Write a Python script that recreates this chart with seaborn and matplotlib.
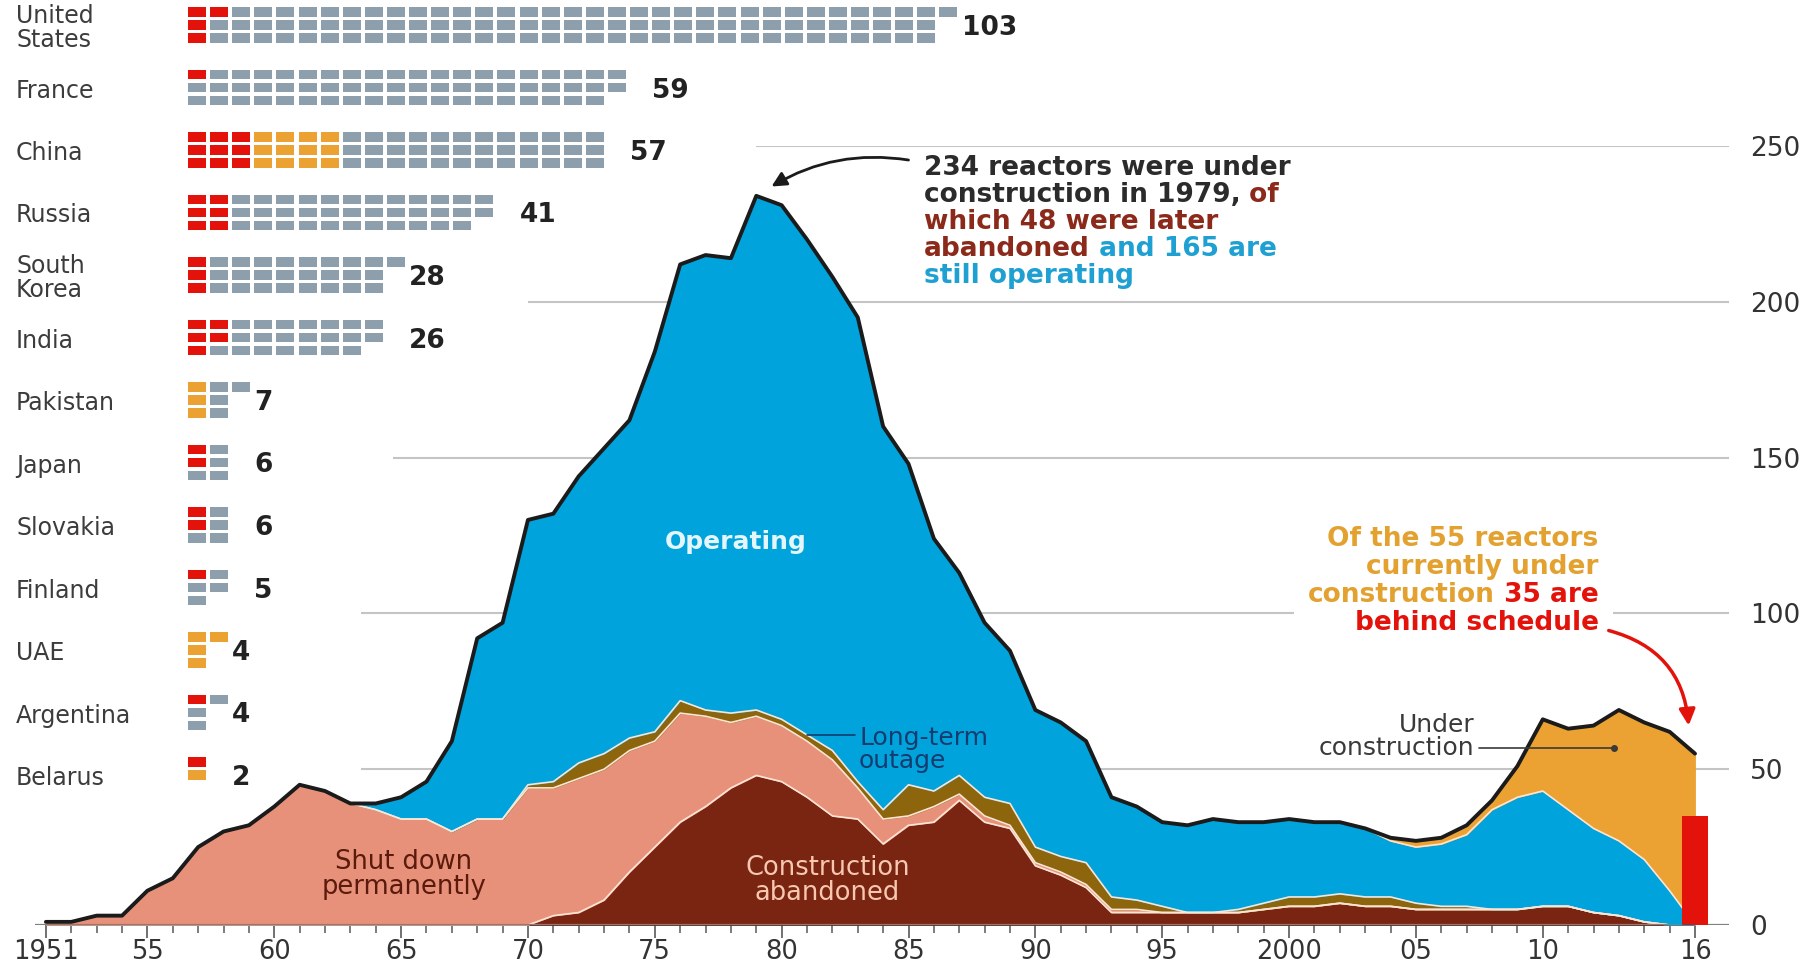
import matplotlib.pyplot as plt
from matplotlib.patches import Rectangle
from matplotlib.transforms import Bbox
import numpy as np
import pandas as pd
import seaborn as sns

# Reactors under construction in each year, split by what became of them
years = list(range(1951, 2017))

abandoned = [0, 0, 0, 0, 0, 0, 0, 0, 0, 0,
             0, 0, 0, 0, 0, 0, 0, 0, 0, 0,
             3, 4, 8, 17, 25, 33, 38, 44, 48, 46,
             41, 35, 34, 26, 32, 33, 40, 33, 31, 19,
             16, 12, 4, 4, 4, 4, 4, 4, 5, 6,
             6, 7, 6, 6, 5, 5, 5, 5, 5, 6,
             6, 4, 3, 1, 0, 0]
shut_down = [1, 1, 3, 3, 11, 15, 25, 30, 32, 38,
             45, 43, 39, 37, 34, 34, 30, 34, 34, 44,
             41, 43, 42, 39, 34, 35, 29, 21, 19, 18,
             18, 18, 10, 8, 3, 5, 2, 2, 1, 1,
             1, 1, 1, 1, 0, 0, 0, 0, 0, 0,
             0, 0, 0, 0, 0, 0, 0, 0, 0, 0,
             0, 0, 0, 0, 0, 0]
outage = [0, 0, 0, 0, 0, 0, 0, 0, 0, 0,
          0, 0, 0, 0, 0, 0, 0, 0, 0, 1,
          2, 5, 5, 4, 3, 4, 2, 3, 2, 2,
          2, 3, 2, 3, 10, 5, 6, 6, 7, 5,
          5, 7, 4, 3, 2, 0, 0, 1, 2, 3,
          3, 3, 3, 3, 2, 1, 1, 0, 0, 0,
          0, 0, 0, 0, 0, 0]
operating = [0, 0, 0, 0, 0, 0, 0, 0, 0, 0,
             0, 0, 0, 2, 7, 12, 29, 58, 63, 85,
             86, 92, 98, 102, 122, 140, 146, 146, 165, 165,
             159, 152, 149, 123, 103, 81, 65, 56, 49, 44,
             43, 39, 32, 30, 27, 28, 30, 28, 26, 25,
             24, 23, 22, 18, 18, 20, 23, 32, 36, 37,
             31, 27, 24, 20, 11, 0]
under_construction = [0, 0, 0, 0, 0, 0, 0, 0, 0, 0,
                      0, 0, 0, 0, 0, 0, 0, 0, 0, 0,
                      0, 0, 0, 0, 0, 0, 0, 0, 0, 0,
                      0, 0, 0, 0, 0, 0, 0, 0, 0, 0,
                      0, 0, 0, 0, 0, 0, 0, 0, 0, 0,
                      0, 0, 0, 1, 2, 2, 3, 3, 10, 23,
                      26, 33, 42, 44, 51, 55]
behind_schedule_2016 = 35

tick_years = [1951, 1955, 1960, 1965, 1970, 1975, 1980, 1985, 1990, 1995, 2000, 2005, 2010, 2016]
tick_labels = ['1951', '55', '60', '65', '70', '75', '80', '85', '90', '95', '2000', '05', '10', '16']
grid_vals = [50, 100, 150, 200, 250]
grid_starts = [1963.4, 1963.4, 1964.7, 1970.0, 1979.0]

# Reactors by country: behind schedule / under construction on time / operating
countries = ['United\nStates', 'France', 'China', 'Russia', 'South\nKorea', 'India', 'Pakistan',
             'Japan', 'Slovakia', 'Finland', 'UAE', 'Argentina', 'Belarus']
c_behind = [4, 1, 9, 6, 3, 5, 0, 2, 2, 1, 0, 1, 1]
c_building = [0, 0, 12, 0, 0, 0, 3, 0, 0, 0, 4, 0, 1]
c_operating = [99, 58, 36, 35, 25, 21, 4, 4, 4, 4, 0, 3, 0]

RED = '#e3120b'
ORANGE = '#eba232'
GREY = '#8d9eac'
DARK = '#2b2b2b'
BROWN_TXT = '#8b2a1a'
BLUE_TXT = '#1ea0d2'
ORANGE_TXT = '#e3a130'


def colour_line(ax, x, y, parts, ha='left', **kw):
    # one line of text made of differently coloured pieces
    texts = []
    if ha == 'left':
        t = ax.text(x, y, parts[0][0], color=parts[0][1], ha='left', va='center', **kw)
        texts.append(t)
        for s, c in parts[1:]:
            t = ax.annotate(s, xy=(1, 0.5), xycoords=t, ha='left', va='center', color=c, **kw)
            texts.append(t)
    else:
        parts = parts[::-1]
        t = ax.text(x, y, parts[0][0], color=parts[0][1], ha='right', va='center', **kw)
        texts.append(t)
        for s, c in parts[1:]:
            t = ax.annotate(s, xy=(0, 0.5), xycoords=t, ha='right', va='center', color=c, **kw)
            texts.append(t)
    return texts


def main():
    sns.set_theme(style='white')
    plt.rcParams['font.family'] = ['DejaVu Sans']

    fig = plt.figure(figsize=(18.19, 9.64), dpi=100)
    fig.patch.set_facecolor('white')
    ax = fig.add_axes([35 / 1819, 39 / 964, (1729 - 35) / 1819, (925 - 146) / 964])
    ax.set_xlim(1950.57, 2017.34)
    ax.set_ylim(0, 250)

    layers = pd.DataFrame({'abandoned': abandoned, 'shut': shut_down, 'outage': outage,
                           'operating': operating, 'building': under_construction}, index=years)
    colours = ['#7a2512', '#e8917a', '#8c650c', '#00a3dc', '#eba232']
    polys = ax.stackplot(years, layers.T.values, colors=colours, lw=0.6, zorder=2)
    for p, c in zip(polys, colours):
        p.set_edgecolor(c)

    cum = layers.cumsum(axis=1)
    for col in cum.columns[:-1]:
        ax.plot(years, cum[col], color='#fbe5d6', lw=1.2, zorder=2.6)
    total = cum.iloc[:, -1].values
    sns.lineplot(x=years, y=total, ax=ax, color='#1b1b1b', lw=2.8, zorder=3.5)

    ax.bar([2016], [behind_schedule_2016], width=1.0, color=RED, lw=0, zorder=4)

    # grid
    for v, x0 in zip(grid_vals, grid_starts):
        ax.hlines(v, x0, 2017.34, color='#c4c4c4', lw=1.5, zorder=1)
    ax.axhline(0, color='#808080', lw=1.6, zorder=3.6)

    ax.set_xticks(tick_years)
    ax.set_xticklabels(tick_labels)
    ax.set_xticks(years, minor=True)
    ax.tick_params(axis='x', which='both', bottom=True, direction='out', color='#666666')
    ax.tick_params(axis='x', which='major', length=9, width=1.3, pad=1, labelsize=18.5, labelcolor='#333333')
    ax.tick_params(axis='x', which='minor', length=6, width=1.2)
    ax.yaxis.tick_right()
    ax.set_yticks([0] + grid_vals)
    ax.tick_params(axis='y', length=0, pad=15, labelsize=19, labelcolor='#333333')
    for s in ax.spines.values():
        s.set_visible(False)
    ax.set_xlabel('')
    ax.set_ylabel('')

    # labels inside the areas
    ax.text(1978.2, 123, 'Operating', ha='center', va='center', color='#e4f5fb',
            fontsize=18, fontweight='bold', zorder=5)
    ax.text(1965.1, 16.2, 'Shut down\npermanently', ha='center', va='center', color='#5a1a0c',
            fontsize=18.5, linespacing=0.95, zorder=5)
    ax.text(1981.8, 14.2, 'Construction\nabandoned', ha='center', va='center', color='#f7c7b0',
            fontsize=18.5, linespacing=0.95, zorder=5)
    ax.plot([1981.0, 1982.9], [61, 61], color='#143c6e', lw=1.2, zorder=5)
    ax.text(1983.05, 56.3, 'Long-term\noutage', ha='left', va='center', color='#143c6e',
            fontsize=18, linespacing=0.95, zorder=5)
    ax.text(2007.3, 60.5, 'Under\nconstruction', ha='right', va='center', color='#3a3a3a',
            fontsize=18, linespacing=0.95, multialignment='right', zorder=5)
    ax.plot([2007.5, 2012.8], [56.8, 56.8], color='#3a3a3a', lw=1.2, zorder=5)
    ax.plot([2012.8], [56.8], 'o', ms=4, color='#3a3a3a', zorder=5)

    # annotation about 1979
    fkw = dict(fontsize=19, fontweight='bold', zorder=6)
    block1 = [
        [('234 reactors were under', DARK)],
        [('construction in 1979,', DARK), (' of', BROWN_TXT)],
        [('which 48 were later', BROWN_TXT)],
        [('abandoned', BROWN_TXT), (' and 165 are', BLUE_TXT)],
        [('still operating', BLUE_TXT)],
    ]
    for parts, y in zip(block1, [242.9, 234.3, 225.6, 216.9, 208.3]):
        colour_line(ax, 1985.6, y, parts, **fkw)
    ax.annotate('', xy=(1979.6, 237), xytext=(1985.0, 245.5),
                arrowprops=dict(arrowstyle='-|>', color='#1b1b1b', lw=2,
                                connectionstyle='arc3,rad=0.18', mutation_scale=22,
                                shrinkA=0, shrinkB=0), zorder=6)

    # annotation about current construction
    block2 = [
        [('Of the 55 reactors', ORANGE_TXT)],
        [('currently under', ORANGE_TXT)],
        [('construction', ORANGE_TXT), (' 35 are', RED)],
        [('behind schedule', RED)],
    ]
    block2_texts = []
    for parts, y in zip(block2, [123.9, 114.9, 105.9, 96.9]):
        block2_texts += colour_line(ax, 2012.2, y, parts, ha='right', **fkw)
    ax.annotate('', xy=(2015.75, 64), xytext=(2012.6, 94.5),
                arrowprops=dict(arrowstyle='-|>', color=RED, lw=2.5,
                                connectionstyle='arc3,rad=-0.35', mutation_scale=24,
                                shrinkA=0, shrinkB=0), zorder=6)

    # white knock-out behind that annotation so the 100 gridline breaks there
    fig.canvas.draw()
    renderer = fig.canvas.get_renderer()
    bb = Bbox.union([t.get_window_extent(renderer) for t in block2_texts]).padded(14)
    (bx0, by0), (bx1, by1) = ax.transData.inverted().transform([[bb.x0, bb.y0], [bb.x1, bb.y1]])
    ax.add_patch(Rectangle((bx0, by0), bx1 - bx0, by1 - by0, facecolor='white',
                           edgecolor='none', zorder=1.5))

    # waffle of reactors by country, in figure pixels
    ax_w = fig.add_axes([0, 0, 1, 1])
    ax_w.set_xlim(0, 1819)
    ax_w.set_ylim(964, 0)
    ax_w.set_facecolor('none')
    ax_w.axis('off')
    x0, px, py, w, h = 188, 22.1, 12.9, 18, 9.5
    y0, pc = 25, 62.5
    for i, name in enumerate(countries):
        cells = [RED] * c_behind[i] + [ORANGE] * c_building[i] + [GREY] * c_operating[i]
        yc = y0 + i * pc
        for k, c in enumerate(cells):
            col, row = divmod(k, 3)
            ax_w.add_patch(Rectangle((x0 + col * px, yc + (row - 1) * py - h / 2), w, h,
                                     facecolor=c, lw=0))
        mid_len = (len(cells) + 1) // 3
        ax_w.text(16, yc + 3, name, ha='left', va='center', fontsize=17, color='#3c3c3c',
                  linespacing=0.95)
        ax_w.text(x0 + (mid_len + 1) * px, yc + 3, str(len(cells)), ha='left', va='center',
                  fontsize=19, fontweight='bold', color='#222222')

    fig.savefig('out.png', dpi=100)
    plt.close(fig)


if __name__ == "__main__":
    main()
